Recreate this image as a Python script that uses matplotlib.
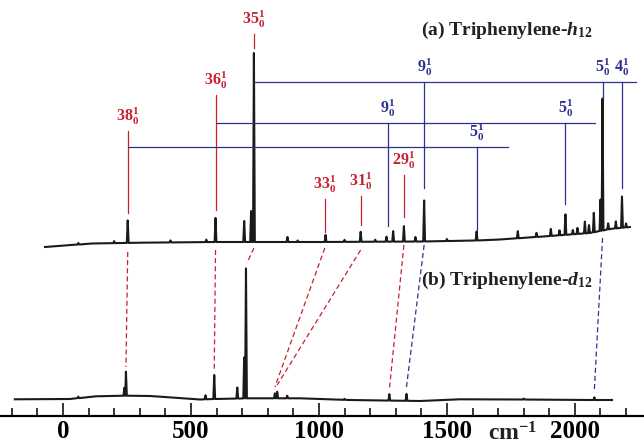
import numpy as np
import matplotlib
matplotlib.use('Agg')
import matplotlib.pyplot as plt

plt.rcParams['font.family'] = 'Liberation Serif'
plt.rcParams['font.weight'] = 'bold'
plt.rcParams['mathtext.fontset'] = 'custom'
plt.rcParams['mathtext.rm'] = 'Liberation Serif'
plt.rcParams['mathtext.it'] = 'Liberation Serif:italic:bold'
plt.rcParams['mathtext.bf'] = 'Liberation Serif:bold'

##  upper trace (h12): baseline and peaks (position cm-1, height)
h_base_x = [-70, 113, 301, 598, 1000, 1402, 1613, 1707, 1902, 2059, 2137, 2215]
h_base_y = [201, 204.5, 205.3, 206, 206, 206.5, 207.5, 208.5, 212, 215, 219, 221]
h_pk_x = [60, 200, 253, 420, 560, 596, 708, 735, 746, 877, 917, 1026, 1100, 1163, 1220,
          1264, 1290, 1332, 1377, 1411, 1500, 1616, 1777, 1850, 1906, 1940, 1963,
          1992, 2010, 2039, 2055, 2074, 2100, 2108, 2130, 2160, 2184, 2200]
h_pk_h = [1.5, 2, 22.5, 2, 2.5, 24, 21, 31, 189, 5, 1.5, 7, 2, 10, 2,
          5, 10.5, 15.5, 4.5, 41, 2, 9, 7, 4, 7, 5, 20.5,
          4.3, 6, 11.7, 8, 19.4, 31.4, 132, 6, 7, 31.3, 4]

##  lower trace (d12)
d_base_x = [-188, 27, 129, 242, 340, 398, 535, 590, 730, 926, 1121, 1395, 1551, 1785, 2059, 2145]
d_base_y = [48.7, 49, 51.7, 52.3, 52, 51, 48.5, 49, 49.7, 49.7, 48, 47, 48.7, 48.5, 48, 48]
d_pk_x = [60, 240, 246, 557, 591, 681, 708, 715, 828, 837, 876, 1100, 1275, 1342, 1800, 2076]
d_pk_h = [1.5, 8, 24, 4, 24, 11, 41, 130, 5, 6.6, 2.6, 1, 6.4, 6.8, 1, 2.7]

##  assignments
red_x = [253, 596, 746, 1023, 1163, 1332]
red_lab = ['38', '36', '35', '33', '31', '29']
red_top = [317, 353, 414, 249, 252, 273]
red_bot = [235, 238, 400, 216, 223, 231]

blue_start = [746, 596, 253]
blue_end = [2238, 2078, 1738]
blue_level = [366, 325, 301]
blue_x = [1411, 2108, 2184, 1268, 1963, 1616]
blue_lab = ['9', '5', '4', '9', '5', '5']
blue_row = [0, 0, 0, 1, 1, 2]
blue_bot = [260, 349, 260, 222, 244, 218]

##  h12 -> d12 correlation (dashed)
link_h = [253, 596, 746, 1023, 1163, 1332, 1411, 2108]
link_d = [246, 591, 719, 828, 837, 1275, 1342, 2076]
link_top = [196, 198, 200, 200, 198, 203, 203, 210]
link_bot = [81, 78, 185, 61, 63, 58, 61, 58]
link_col = ['r', 'r', 'r', 'r', 'r', 'r', 'b', 'b']

RED = '#c8202e'
BLUE = '#2e3192'


def trace(bx, by, px, ph, w=3.5):
    bx = np.array(bx, float)
    by = np.array(by, float)
    xs, ys = [], []
    for x, y in zip(bx, by):
        if np.min(np.abs(np.array(px) - x)) > w:
            xs.append(x)
            ys.append(y)
    for p, h in zip(px, ph):
        b = np.interp(p, bx, by)
        xs += [p - w, p, p + w]
        ys += [b, b + h, b]
    o = np.argsort(xs, kind='stable')
    return np.array(xs)[o], np.array(ys)[o]


fig = plt.figure(figsize=(6.44, 4.48), dpi=100)
ax = fig.add_axes([0, 0, 1, 1])

hx, hy = trace(h_base_x, h_base_y, h_pk_x, h_pk_h)
dx, dy = trace(d_base_x, d_base_y, d_pk_x, d_pk_h)
ax.plot(hx, hy, '-', color='#1a1a1a', linewidth=1.5)
ax.plot(dx, dy, '-', color='#1a1a1a', linewidth=1.5)

for x, lab, t, b in zip(red_x, red_lab, red_top, red_bot):
    ax.plot([x, x], [b, t], color=RED, linewidth=0.9)
    ax.text(x, t + 4, r'$\mathbf{%s}_{\mathbf{0}}^{\mathbf{1}}$' % lab, color=RED,
            fontsize=11.5, ha='center', va='bottom')

for s, e, lv in zip(blue_start, blue_end, blue_level):
    ax.plot([s, e], [lv, lv], color=BLUE, linewidth=0.9)
for x, lab, r, b in zip(blue_x, blue_lab, blue_row, blue_bot):
    lv = blue_level[r]
    ax.plot([x, x], [b, lv], color=BLUE, linewidth=0.9)
    ax.text(x, lv + 4, r'$\mathbf{%s}_{\mathbf{0}}^{\mathbf{1}}$' % lab, color=BLUE,
            fontsize=11.5, ha='center', va='bottom')

for a, b, t, bt, c in zip(link_h, link_d, link_top, link_bot, link_col):
    col = RED if c == 'r' else BLUE
    ax.plot([a, b], [t, bt], '--', color=col, linewidth=0.9, dashes=(4, 2.5))

ax.text(1735, 418, r'(a) Triphenylene-$\mathit{h}_{\mathrm{12}}$', fontsize=14,
        ha='center', va='center', color='#222222')
ax.text(1735, 168, r'(b) Triphenylene-$\mathit{d}_{\mathrm{12}}$', fontsize=14,
        ha='center', va='center', color='#222222')
ax.text(1756, 3, r'cm$^{\mathbf{-1}}$', fontsize=17, ha='center', va='bottom',
        color='#222222')

ax.set_xlim(-246, 2270)
ax.set_ylim(0, 448)
for s in ['left', 'right', 'top']:
    ax.spines[s].set_visible(False)
ax.spines['bottom'].set_position(('data', 32))
ax.spines['bottom'].set_linewidth(1.6)
ax.set_yticks([])
ax.set_xticks([0, 500, 1000, 1500, 2000])
ax.set_xticks(np.arange(-200, 2201, 100), minor=True)
ax.tick_params(axis='x', which='major', direction='in', length=9.5, width=1.1,
               labelsize=18, pad=3)
ax.tick_params(axis='x', which='minor', direction='in', length=6, width=1.1)
for t in ax.get_xticklabels():
    t.set_fontweight('bold')

plt.savefig('out.png', dpi=100)
